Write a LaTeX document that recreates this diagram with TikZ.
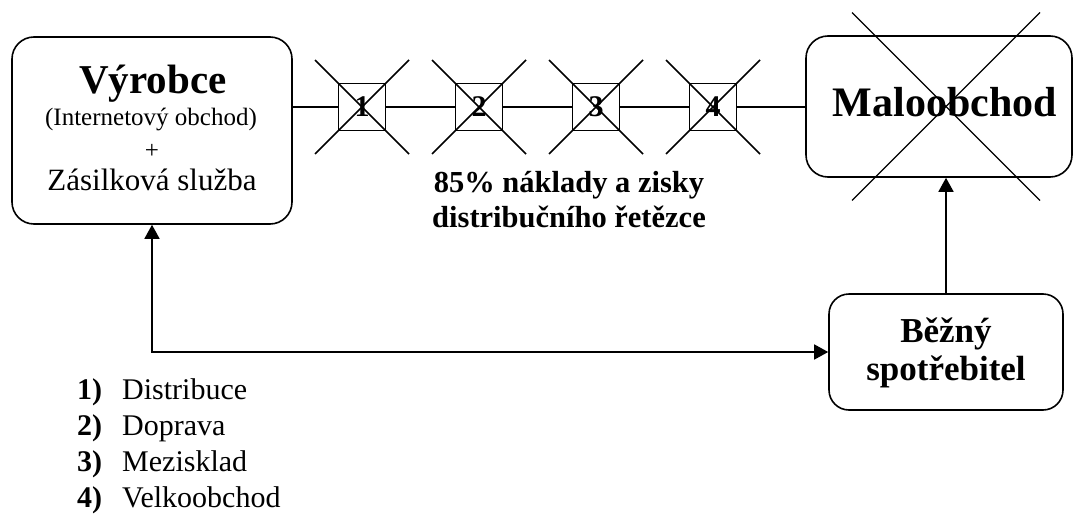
\documentclass[tikz,border=0pt]{standalone}
\usepackage{fontspec}
\setmainfont{Liberation Serif}
\usetikzlibrary{arrows.meta}
\newcommand{\pxfont}[1]{\fontsize{#1}{#1}\selectfont}

\begin{document}
\begin{tikzpicture}[x=1pt,y=-1pt,
  box/.style={draw, line width=1.6pt, rounded corners=22pt, inner sep=0pt},
  stepbox/.style={draw, line width=1.6pt, minimum size=47pt, inner sep=0pt,
    font=\bfseries\pxfont{30}},
  lbl/.style={inner sep=0pt, anchor=base},
  conn/.style={line width=1.6pt},
  cross/.style={line width=1.5pt},
  tri/.tip={Triangle[length=14pt,width=15pt]}]

\useasboundingbox (0,0) rectangle (1074,514);

% main boxes
\node[box, minimum width=280pt, minimum height=187pt] (vyr) at (152,130.5) {};
\node[box, minimum width=266pt, minimum height=141pt] (mal) at (939,106.5) {};
\node[box, rounded corners=20pt, minimum width=234pt, minimum height=116pt] (bez) at (946,352) {};

% texts of the main boxes
\node[lbl, font=\bfseries\pxfont{41}] (vyrT) at (153,93) {Výrobce};
\node[lbl, font=\pxfont{25}] (vyrI) at (151,125) {(Internetový obchod)};
\node[lbl, font=\pxfont{25}] (vyrP) at (152,158) {+};
\node[lbl, font=\pxfont{31}] (vyrZ) at (152,190) {Zásilková služba};
\node[lbl, font=\bfseries\pxfont{42}] (malT) at (945,116) {Maloobchod};
\node[lbl, font=\bfseries\pxfont{35}] (bezA) at (946,342) {Běžný};
\node[lbl, font=\bfseries\pxfont{35}] (bezB) at (946,380) {spotřebitel};

% distribution chain steps
\foreach \i/\x in {1/362,2/479,3/596,4/713} {
  \node[stepbox] (s\i) at (\x,107) {\i};
}
\draw[conn] (s1 -| vyr.east) -- (s1.west);
\draw[conn] (s1.east) -- (s2.west);
\draw[conn] (s2.east) -- (s3.west);
\draw[conn] (s3.east) -- (s4.west);
\draw[conn] (s4.east) -- (s4 -| mal.west);

% crossed-out steps
\foreach \i in {1,2,3,4} {
  \draw[cross] ([shift={(-47,-47)}]s\i.center) -- ([shift={(47,47)}]s\i.center);
  \draw[cross] ([shift={(-47,47)}]s\i.center) -- ([shift={(47,-47)}]s\i.center);
}

% crossed-out retail
\draw[line width=1.3pt] ([shift={(-87,-94)}]mal.center) -- ([shift={(101,94)}]mal.center);
\draw[line width=1.3pt] ([shift={(-87,94)}]mal.center) -- ([shift={(101,-94)}]mal.center);

% chain caption
\node[lbl, font=\bfseries\pxfont{30.5}] (cap1) at (569,192) {85\% náklady a zisky};
\node[lbl, font=\bfseries\pxfont{30.5}] (cap2) at (569,227) {distribučního řetězce};

% arrows
\draw[conn, -tri] (bez.north) -- (bez.north |- mal.south);
\draw[conn, tri-tri] (vyr.south) |- (bez.west);

% legend
\foreach \n/\t/\y in {1/Distribuce/399, 2/Doprava/435, 3/Mezisklad/471, 4/Velkoobchod/507} {
  \node[lbl, anchor=base west, font=\bfseries\pxfont{30}] (num\n) at (77,\y) {\n)};
  \node[lbl, anchor=base west, font=\pxfont{30}] (item\n) at (122,\y) {\t};
}
\end{tikzpicture}
\end{document}
